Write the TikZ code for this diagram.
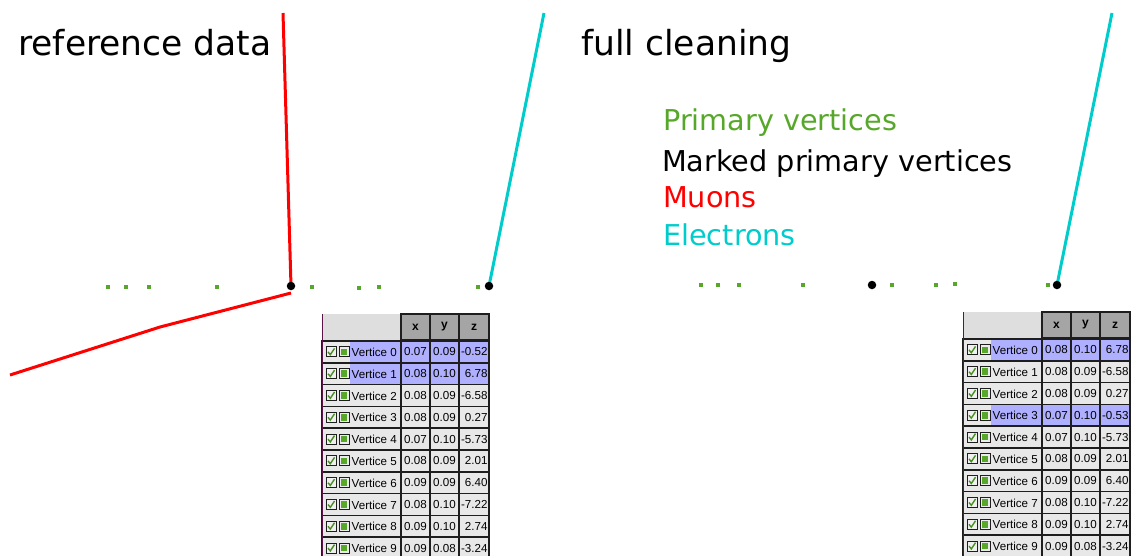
\documentclass[tikz,border=0pt]{standalone}
\usepackage{fontspec}
\setmainfont{DejaVu Sans}
\newfontfamily\tabfont{Liberation Sans}
\definecolor{pvgreen}{RGB}{87,168,42}
\definecolor{elcyan}{RGB}{0,204,204}
\definecolor{hlblue}{RGB}{175,175,255}
\definecolor{cellgray}{RGB}{232,232,232}
\definecolor{headgray}{RGB}{165,165,165}
\definecolor{headlight}{RGB}{222,222,222}
\definecolor{tabborder}{RGB}{30,30,30}
\definecolor{tabedge}{RGB}{90,20,70}

\newcommand\drawvtable[3]{%
\begin{scope}[shift={#2}]
  \fill[headlight] (0,0) rectangle (79,26);
  \node[headcell] (#1-hx) at (93.5,13) {x};
  \node[headcell, minimum width=29pt] (#1-hy) at (122.5,13) {y};
  \node[headcell, minimum width=30pt] (#1-hz) at (152,13) {z};
  \foreach \i/\xv/\yv/\zv/\hl in {#3} {
    \pgfmathsetmacro\rt{27+21.8*\i}
    \def\cf{cellgray}
    \ifnum\hl=1 \def\cf{hlblue}\fi
    \path[fill=cellgray, draw=tabborder, line width=1.5pt] (0,\rt) rectangle (79,{\rt+21.8});
    \ifnum\hl=1 \fill[hlblue] (28,{\rt+0.8}) rectangle (78.2,{\rt+21}); \fi
    \node[iconbox, fill=white!88!gray] (#1-r\i-cb) at (9,{\rt+10.9}) {};
    \draw[pvgreen!85!black, line width=1.4pt]
      ([xshift=-3pt,yshift=0pt]#1-r\i-cb.center) -- ([xshift=-0.7pt,yshift=-2.8pt]#1-r\i-cb.center)
      -- ([xshift=3.5pt,yshift=3.5pt]#1-r\i-cb.center);
    \node[iconbox, fill=white!85!gray] (#1-r\i-sq) at (22,{\rt+10.9}) {};
    \node[rectangle, fill=pvgreen, minimum size=6.5pt, inner sep=0pt] (#1-r\i-sqin) at (#1-r\i-sq) {};
    \node[tabtext, anchor=west] (#1-r\i-n) at (29.5,{\rt+11.3}) {Vertice \i};
    \node[numcell, fill=\cf, minimum width=29pt] (#1-r\i-x) at (93.5,{\rt+10.9}) {\xv};
    \node[numcell, fill=\cf, minimum width=29pt] (#1-r\i-y) at (122.5,{\rt+10.9}) {\yv};
    \node[numcell, fill=\cf, minimum width=30pt] (#1-r\i-z) at (152,{\rt+10.9}) {};
    \node[tabtext, anchor=east] (#1-r\i-zt) at ([xshift=-2pt]#1-r\i-z.east) {\zv};
  }
  \draw[tabedge, line width=1pt] (0,0) -- (0,250);
\end{scope}}

\begin{document}
\begin{tikzpicture}[x=1pt,y=-1pt,
  pvdot/.style={rectangle, fill=pvgreen, minimum size=4pt, inner sep=0pt},
  vtxdot/.style={circle, fill=black, minimum size=8.5pt, inner sep=0pt},
  muon/.style={draw=red, line width=3pt},
  elec/.style={draw=elcyan, line width=3pt},
  bigtext/.style={font=\fontsize{34.5}{40}\selectfont, anchor=base west, inner sep=0pt},
  legtext/.style={font=\fontsize{28.7}{32}\selectfont, anchor=base west, inner sep=0pt},
  tabtext/.style={font=\tabfont\fontsize{11.6}{13}\selectfont, inner sep=0pt},
  headcell/.style={rectangle, draw=tabborder, fill=headgray, line width=1.5pt, minimum width=29pt, minimum height=26pt, inner sep=0pt, font=\tabfont\bfseries\fontsize{12}{13}\selectfont},
  numcell/.style={rectangle, draw=tabborder, line width=1.5pt, minimum height=21.8pt, inner sep=1pt, font=\tabfont\fontsize{11.6}{13}\selectfont},
  iconbox/.style={rectangle, draw=tabborder, line width=1pt, minimum size=10pt, inner sep=0pt}
]
\clip (0,0) rectangle (1131,555);
\fill[white] (0,0) rectangle (1131,555);

% titles
\node[bigtext] (tref) at (18,55) {reference data};
\node[bigtext] (tfull) at (581,55) {full cleaning};

% legend
\node[legtext, text=pvgreen] (lpv) at (663,130) {Primary vertices};
\node[legtext, text=black] (lmpv) at (662,171) {Marked primary vertices};
\node[legtext, text=red] (lmu) at (663,207) {Muons};
\node[legtext, text=elcyan] (lel) at (663,245) {Electrons};

% vertex positions
\coordinate (v1) at (291,286);
\coordinate (v2) at (489,286);
\coordinate (v3) at (872,285);
\coordinate (v4) at (1057,285);
\coordinate (mu1top) at (283,13);
\coordinate (mu2s) at (291,293);
\coordinate (mu2k) at (160,327);
\coordinate (mu2e) at (10,375);
\coordinate (el1top) at (544,13);
\coordinate (el2top) at (1112,13);

% tracks
\draw[muon] (mu1top) -- (v1);
\draw[muon] (mu2s) -- (mu2k) -- (mu2e);
\draw[elec] (el1top) -- (v2);
\draw[elec] (el2top) -- (v4);

% primary vertices
\foreach \xx/\yy [count=\k] in {108/287,126/287,149/287,217/287,312/287,359/288,379/287,478/287}
  \node[pvdot] (pvL\k) at (\xx,\yy) {};
\foreach \xx/\yy [count=\k] in {701/285,718/285,739/285,803/285,892/285,936/285,955/284,1048/285}
  \node[pvdot] (pvR\k) at (\xx,\yy) {};

% marked primary vertices
\node[vtxdot] (v1dot) at (v1) {};
\node[vtxdot] (v2dot) at (v2) {};
\node[vtxdot] (v3dot) at (v3) {};
\node[vtxdot] (v4dot) at (v4) {};

% tables
\drawvtable{L}{(322,314)}{0/0.07/0.09/-0.52/1,1/0.08/0.10/6.78/1,2/0.08/0.09/-6.58/0,3/0.08/0.09/0.27/0,4/0.07/0.10/-5.73/0,5/0.08/0.09/2.01/0,6/0.09/0.09/6.40/0,7/0.08/0.10/-7.22/0,8/0.09/0.10/2.74/0,9/0.09/0.08/-3.24/0}
\drawvtable{R}{(963,312)}{0/0.08/0.10/6.78/1,1/0.08/0.09/-6.58/0,2/0.08/0.09/0.27/0,3/0.07/0.10/-0.53/1,4/0.07/0.10/-5.73/0,5/0.08/0.09/2.01/0,6/0.09/0.09/6.40/0,7/0.08/0.10/-7.22/0,8/0.09/0.10/2.74/0,9/0.09/0.08/-3.24/0}
\end{tikzpicture}
\end{document}
